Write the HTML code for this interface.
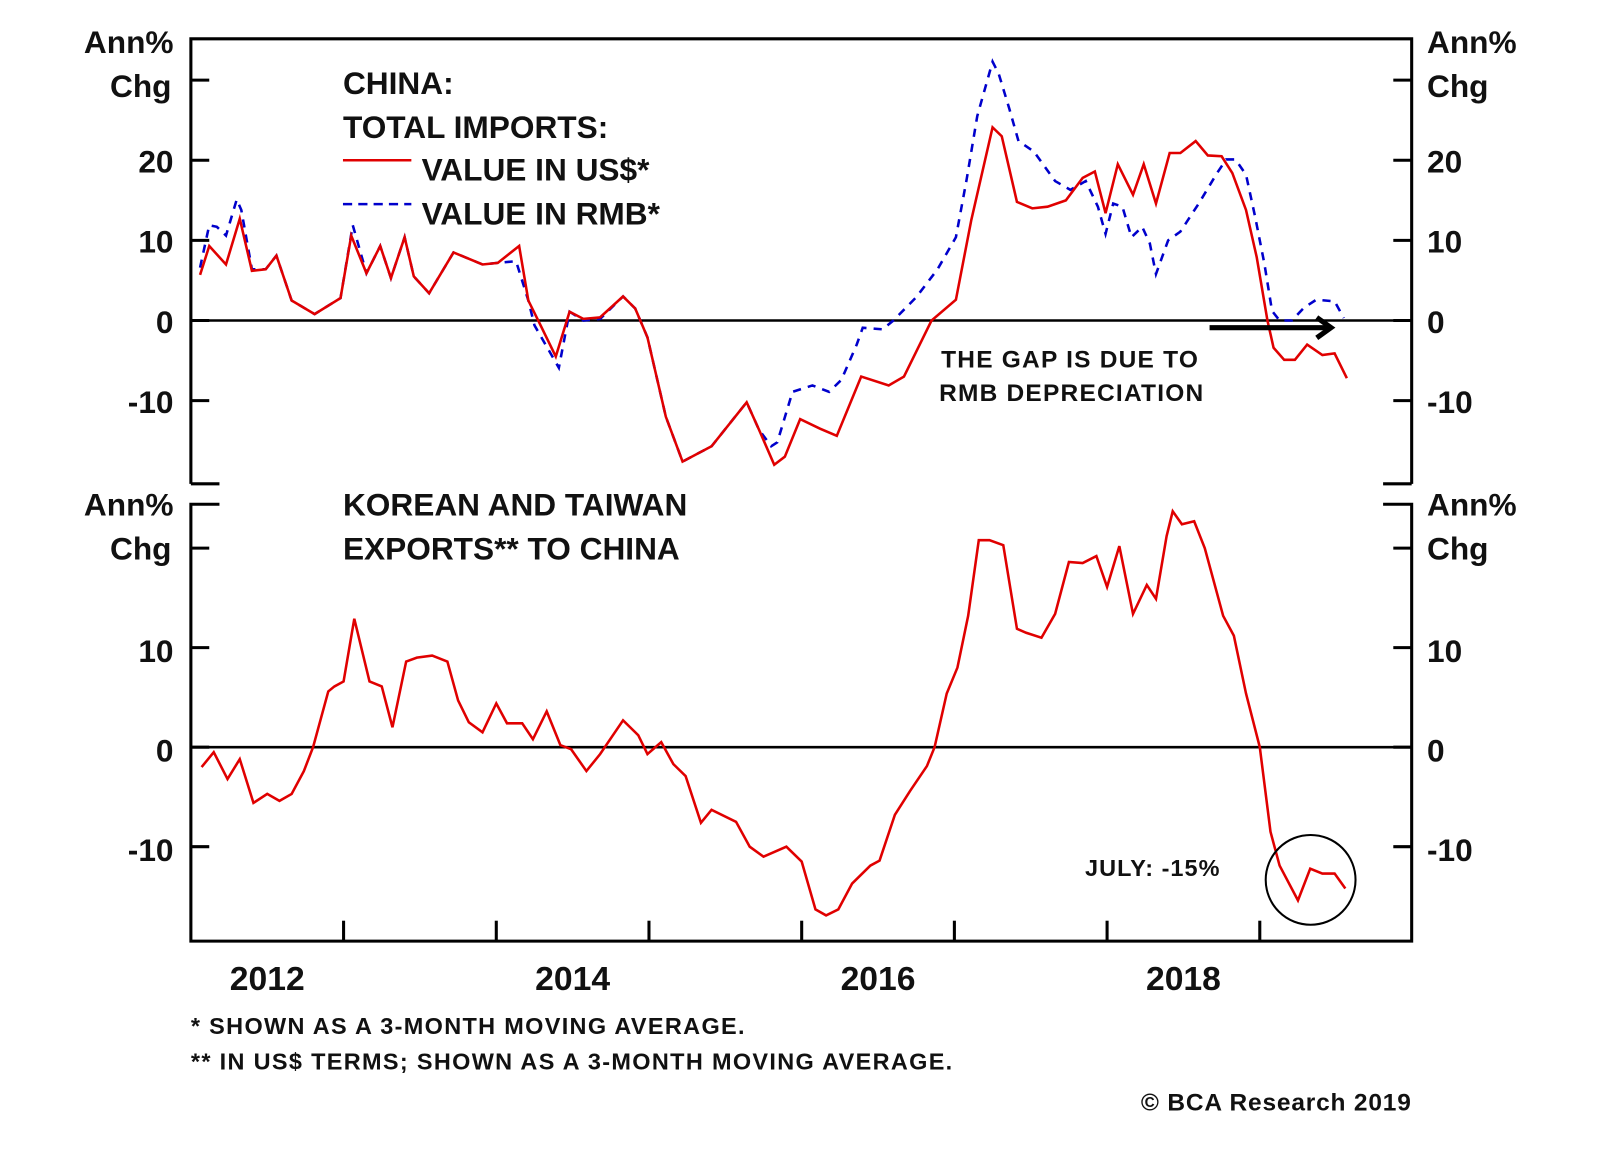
<!DOCTYPE html>
<html><head><meta charset="utf-8"><style>
body{margin:0;background:#fff;}
svg text{font-family:"Liberation Sans Narrow","Liberation Sans",sans-serif;font-weight:bold;fill:#111;}
</style></head><body>
<svg id="chart" width="1600" height="1152" viewBox="0 0 1567.5 1128.6" xmlns="http://www.w3.org/2000/svg">
<g id="frame" stroke="#000" stroke-width="3" fill="none">
<path d="M187,474 L187,38 L1383,38 L1383,474" />
<path d="M187,474 L215,474 M1355,474 L1383,474" />
<path d="M215,494 L187,494 L187,922 L1383,922 L1383,494 L1355,494" />
</g>
<g id="ticks" stroke="#000" stroke-width="3"></g>
<g id="labels"></g>
<g id="series"></g>

<text x="170" y="52" font-size="31" text-anchor="end">Ann%</text>
<text x="168" y="95" font-size="31" text-anchor="end">Chg</text>
<text x="1398" y="52" font-size="31">Ann%</text>
<text x="1398" y="95" font-size="31">Chg</text>
<text x="170" y="505" font-size="31" text-anchor="end">Ann%</text>
<text x="168" y="548" font-size="31" text-anchor="end">Chg</text>
<text x="1398" y="505" font-size="31">Ann%</text>
<text x="1398" y="548" font-size="31">Chg</text>

<text x="336" y="92" font-size="31">CHINA:</text>
<text x="336" y="135" font-size="31">TOTAL IMPORTS:</text>
<line x1="336" y1="157" x2="403" y2="157" stroke="#e00000" stroke-width="2.5"/>
<text x="413" y="177" font-size="31">VALUE IN US$*</text>
<line x1="336" y1="200" x2="403" y2="200" stroke="#0000cc" stroke-width="2.5" stroke-dasharray="9,6"/>
<text x="413" y="220" font-size="31">VALUE IN RMB*</text>

<text x="922" y="360" font-size="24" letter-spacing="1.2">THE GAP IS DUE TO</text>
<text x="920" y="393" font-size="24" letter-spacing="1.2">RMB DEPRECIATION</text>
<g>
<line x1="1185" y1="321" x2="1300" y2="321" stroke="#000" stroke-width="5"/>
<path d="M1290,311 L1304,321 L1290,331" stroke="#000" stroke-width="5" fill="none"/>
</g>

<text x="336" y="505" font-size="31">KOREAN AND TAIWAN</text>
<text x="336" y="548" font-size="31">EXPORTS** TO CHINA</text>
<text x="1063" y="858" font-size="23" letter-spacing="1">JULY: -15%</text>
<circle cx="1284" cy="862" r="44" stroke="#000" stroke-width="2" fill="none"/>

<text x="187" y="1013" font-size="23" letter-spacing="1.3">*  SHOWN AS A 3-MONTH MOVING AVERAGE.</text>
<text x="187" y="1048" font-size="23" letter-spacing="1.3">** IN US$ TERMS; SHOWN AS A 3-MONTH MOVING AVERAGE.</text>
<text x="1383" y="1088" font-size="24" letter-spacing="0.8" text-anchor="end">© BCA Research 2019</text>
</svg>
<script>
const usdDates=[2012.06,2012.12,2012.23,2012.32,2012.40,2012.49,2012.56,2012.66,2012.81,2012.98,2013.05,2013.15,2013.24,2013.31,2013.40,2013.46,2013.56,2013.72,2013.91,2014.01,2014.15,2014.21,2014.28,2014.39,2014.48,2014.57,2014.68,2014.83,2014.91,2014.99,2015.11,2015.22,2015.41,2015.64,2015.72,2015.82,2015.89,2015.99,2016.12,2016.23,2016.39,2016.57,2016.67,2016.75,2016.85,2017.01,2017.11,2017.25,2017.31,2017.41,2017.51,2017.61,2017.73,2017.84,2017.92,2017.99,2018.07,2018.17,2018.24,2018.32,2018.41,2018.48,2018.58,2018.66,2018.75,2018.82,2018.91,2018.98,2019.05,2019.09,2019.16,2019.23,2019.31,2019.41,2019.49,2019.57];
const usdValues=[5.7,9.3,7.0,12.7,6.2,6.4,8.1,2.5,0.8,2.8,10.6,5.9,9.3,5.3,10.4,5.5,3.4,8.5,7.0,7.2,9.3,2.5,-0.2,-4.5,1.1,0.2,0.4,3.0,1.5,-2.1,-12.0,-17.6,-15.7,-10.2,-13.6,-18.0,-17.0,-12.3,-13.5,-14.4,-7.0,-8.1,-7.0,-3.9,0,2.6,12.5,24.1,23.0,14.8,14.0,14.2,15.0,17.8,18.6,13.4,19.5,15.7,19.5,14.6,20.9,20.9,22.4,20.6,20.5,18.4,13.8,7.9,0,-3.4,-4.9,-4.9,-3.0,-4.3,-4.1,-7.2];
const rmbDates=[2012.06,2012.12,2012.17,2012.23,2012.30,2012.33,2012.40,2012.49,2012.56,2012.66,2012.81,2012.98,2013.06,2013.15,2013.24,2013.31,2013.40,2013.46,2013.56,2013.72,2013.91,2014.01,2014.13,2014.21,2014.25,2014.41,2014.48,2014.57,2014.68,2014.83,2014.91,2014.99,2015.11,2015.22,2015.41,2015.64,2015.72,2015.80,2015.84,2015.94,2016.07,2016.18,2016.26,2016.36,2016.40,2016.53,2016.60,2016.75,2016.89,2017.01,2017.08,2017.15,2017.25,2017.29,2017.36,2017.42,2017.52,2017.66,2017.76,2017.86,2017.94,2017.99,2018.04,2018.10,2018.16,2018.23,2018.28,2018.32,2018.40,2018.48,2018.60,2018.72,2018.78,2018.84,2018.91,2018.97,2019.03,2019.08,2019.13,2019.21,2019.29,2019.37,2019.49,2019.55];
const rmbValues=[6.6,11.9,11.7,10.6,15.1,13.8,6.4,6.4,8.1,2.5,0.8,2.8,11.9,5.9,9.3,5.3,10.4,5.5,3.4,8.5,7.0,7.2,7.4,2.5,-0.6,-5.9,1.1,0.0,0.2,3.0,1.5,-2.1,-12.0,-17.6,-15.7,-10.2,-13.6,-15.7,-15.2,-8.9,-8.1,-8.9,-7.4,-3.0,-0.9,-1.1,0,2.9,6.4,10.4,17.6,25.5,32.3,30.8,26.4,22.4,21.1,17.4,16.3,17.4,14.2,10.8,14.6,14.2,10.4,11.7,9.6,5.8,10.0,11.1,14.6,18.4,20.1,20.1,18.2,12.9,7.1,1.2,0,0,1.6,2.6,2.4,0.3];
const ktDates=[2012.07,2012.15,2012.24,2012.32,2012.41,2012.50,2012.58,2012.66,2012.74,2012.80,2012.90,2012.94,2013.00,2013.07,2013.17,2013.25,2013.32,2013.41,2013.48,2013.58,2013.68,2013.75,2013.82,2013.91,2014.00,2014.07,2014.17,2014.24,2014.33,2014.42,2014.49,2014.59,2014.68,2014.83,2014.93,2014.99,2015.08,2015.16,2015.24,2015.34,2015.41,2015.57,2015.66,2015.75,2015.90,2016.00,2016.09,2016.16,2016.24,2016.33,2016.45,2016.51,2016.61,2016.71,2016.82,2016.87,2016.95,2017.02,2017.09,2017.16,2017.23,2017.32,2017.41,2017.47,2017.57,2017.66,2017.75,2017.84,2017.93,2018.00,2018.08,2018.17,2018.26,2018.32,2018.39,2018.43,2018.49,2018.57,2018.64,2018.76,2018.83,2018.91,2019.00,2019.07,2019.13,2019.25,2019.33,2019.41,2019.49,2019.56];
const ktValues=[-2.0,-0.5,-3.2,-1.2,-5.6,-4.7,-5.4,-4.7,-2.4,0,5.6,6.1,6.6,12.9,6.6,6.1,2.0,8.6,9.0,9.2,8.6,4.7,2.5,1.5,4.4,2.4,2.4,0.8,3.6,0.2,-0.2,-2.4,-0.7,2.7,1.2,-0.7,0.5,-1.7,-2.9,-7.6,-6.3,-7.5,-10.0,-11.0,-10.0,-11.5,-16.3,-16.9,-16.3,-13.7,-11.9,-11.4,-6.8,-4.4,-1.9,0,5.4,8.0,13.2,20.8,20.8,20.3,11.9,11.5,11.0,13.4,18.6,18.5,19.2,16.1,20.2,13.4,16.3,14.9,21.2,23.7,22.4,22.7,20.0,13.2,11.2,5.4,0,-8.5,-11.9,-15.4,-12.2,-12.7,-12.7,-14.2];
const topTicks=[30,20,10,0,-10];
const topTickLabels=["20","10","0","-10"];
const topLabelValues=[20,10,0,-10];
const bottomTicks=[20,10,0,-10];
const bottomTickLabels=["10","0","-10"];
const bottomLabelValues=[10,0,-10];
const yearTicks=[2013,2014,2015,2016,2017,2018,2019];
const yearLabels=["2012","2014","2016","2018"];

const NS="http://www.w3.org/2000/svg";
const xS=t=>187+(t-2012)*149.6;
const yTop=v=>314-v*7.85;
const yBot=v=>732-v*9.75;
const ticksG=document.getElementById('ticks');
const labelsG=document.getElementById('labels');
const seriesG=document.getElementById('series');
function mk(tag,attrs,parent){const e=document.createElementNS(NS,tag);for(const k in attrs)e.setAttribute(k,attrs[k]);parent.appendChild(e);return e;}

topTicks.forEach(v=>{
  const a=mk('line',{x1:187,x2:205,y1:yTop(v),y2:yTop(v)},ticksG);
  
  
  const b=mk('line',{x1:1365,x2:1383,y1:yTop(v),y2:yTop(v)},ticksG);
  
  
});
bottomTicks.forEach(v=>{
  const a=mk('line',{x1:187,x2:205,y1:yBot(v),y2:yBot(v)},ticksG);
  
  
  const b=mk('line',{x1:1365,x2:1383,y1:yBot(v),y2:yBot(v)},ticksG);
  
  
});
yearTicks.forEach(t=>{
  const a=mk('line',{x1:xS(t),x2:xS(t),y1:902,y2:922},ticksG);
  
  
});
topTickLabels.forEach((s,i)=>{
  const y=yTop(topLabelValues[i])+12;
  const a=mk('text',{x:170,y:y,'font-size':31,'text-anchor':'end'},labelsG);a.textContent=s;
  
  
  const b=mk('text',{x:1398,y:y,'font-size':31},labelsG);b.textContent=s;
  
  
});
bottomTickLabels.forEach((s,i)=>{
  const y=yBot(bottomLabelValues[i])+14;
  const a=mk('text',{x:170,y:y,'font-size':31,'text-anchor':'end'},labelsG);a.textContent=s;
  
  
  const b=mk('text',{x:1398,y:y,'font-size':31},labelsG);b.textContent=s;
  
  
});
yearLabels.forEach(s=>{
  const a=mk('text',{x:xS(+s+0.5),y:970,'font-size':33,'text-anchor':'middle'},labelsG);a.textContent=s;
  
  
});
const z1=mk('line',{x1:187,x2:1383,y1:yTop(0),y2:yTop(0),stroke:'#000','stroke-width':2.5},seriesG);


const z2=mk('line',{x1:187,x2:1383,y1:yBot(0),y2:yBot(0),stroke:'#000','stroke-width':2.5},seriesG);


function pts(d,v,fy){return d.map((t,i)=>xS(t).toFixed(1)+','+fy(v[i]).toFixed(1)).join(' ');}
const rmb=mk('polyline',{points:pts(rmbDates,rmbValues,yTop),fill:'none',stroke:'#0000cc','stroke-width':2.5,'stroke-dasharray':'8,7'},seriesG);


const usd=mk('polyline',{points:pts(usdDates,usdValues,yTop),fill:'none',stroke:'#e00000','stroke-width':2.5},seriesG);


const kt=mk('polyline',{points:pts(ktDates,ktValues,yBot),fill:'none',stroke:'#e00000','stroke-width':2.5},seriesG);


</script>
</body></html>
